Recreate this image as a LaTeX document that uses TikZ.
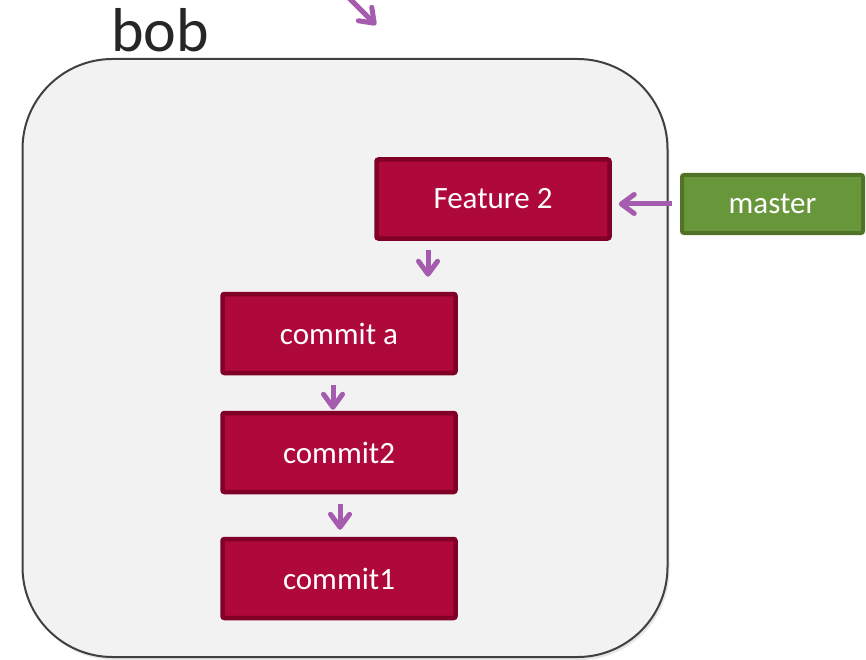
\documentclass[tikz,border=0pt]{standalone}
\usepackage{fontspec}
\setmainfont{Carlito}
\usetikzlibrary{arrows.meta,shadows}
\definecolor{commitred}{RGB}{175,8,58}
\definecolor{commitedge}{RGB}{128,0,40}
\definecolor{mastergreen}{RGB}{104,150,58}
\definecolor{masteredge}{RGB}{80,115,40}
\definecolor{ptrpurple}{RGB}{166,92,174}
\definecolor{repogray}{RGB}{242,242,242}
\definecolor{repoedge}{RGB}{64,64,64}
\tikzset{
	commit/.style={draw=commitedge, fill=commitred, line width=4.5pt, rounded corners=2pt, text=white, minimum width=233pt, minimum height=79pt, font=\fontsize{31}{36}\selectfont},
	branch/.style={draw=masteredge, fill=mastergreen, line width=4pt, rounded corners=2pt, text=white, minimum width=181pt, minimum height=58pt, font=\fontsize{31}{36}\selectfont},
	ptr/.style={ptrpurple, line width=5pt, -{Straight Barb[length=13pt,width=19pt,round]}}
}
\begin{document}
\begin{tikzpicture}[x=1pt, y=-1pt]
		\useasboundingbox (0,0) rectangle (866,660);
		\node[draw=repoedge, fill=repogray, line width=2pt, rounded corners=90pt, minimum width=645pt, minimum height=598pt, inner sep=0, drop shadow={opacity=0.2, shadow xshift=2pt, shadow yshift=-3pt}] (repo) at (345,358) {};
		\node[anchor=base west, inner sep=0, text=black!85, font=\fontsize{62}{70}\selectfont] (name) at (111,52) {bob};
		\node[commit] (feat) at (493,199) {Feature 2};
		\node[commit] (ca) at (339,333.5) {commit a};
		\node[commit] (c2) at (339,452.5) {commit2};
		\node[commit] (c1) at (339,578.5) {commit1};
		\node[branch] (master) at (772.5,204) {master};
		\coordinate (incoming) at (340,-11);
		\coordinate (bobtop) at (376,25);
		\draw[ptr] (incoming) -- (bobtop);
		\draw[ptr, shorten <=8pt, shorten >=7pt] (master.west) -- (master.west -| feat.east);
		\draw[ptr, shorten <=9pt, shorten >=15pt] ([xshift=-65pt]feat.south) -- ([xshift=-65pt]feat.south |- ca.north);
		\draw[ptr, shorten <=10pt, shorten >=1pt] ([xshift=-6pt]ca.south) -- ([xshift=-6pt]c2.north);
		\draw[ptr, shorten <=10pt, shorten >=7pt] ([xshift=1pt]c2.south) -- ([xshift=1pt]c1.north);
\end{tikzpicture}
\end{document}
